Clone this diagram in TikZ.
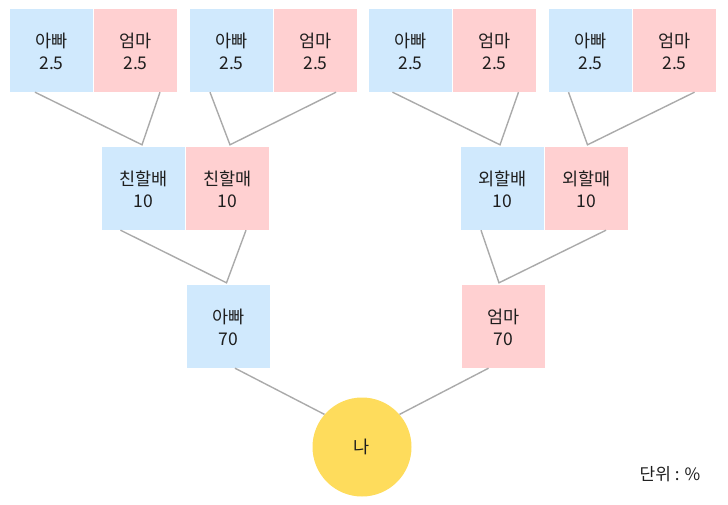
\documentclass[tikz,border=0pt]{standalone}
\usepackage{fontspec}
\setmainfont{Noto Sans CJK KR}
\definecolor{dadblue}{RGB}{208,233,253}
\definecolor{mompink}{RGB}{255,208,209}
\definecolor{meyellow}{RGB}{254,220,92}
\definecolor{linegray}{RGB}{170,170,170}
\definecolor{txt}{RGB}{30,30,30}
\newcommand{\twoline}[2]{\raisebox{-3.5pt}[\height][\depth]{\begin{tabular}{@{}c@{}}#1\\#2\end{tabular}}}
\tikzset{
  person/.style={minimum width=83pt,minimum height=83pt,inner sep=0pt,align=center,
    text=txt,font=\fontsize{17.5}{22}\selectfont},
  dad/.style={person,fill=dadblue},
  mom/.style={person,fill=mompink},
  link/.style={draw=linegray,line width=1.4pt},
}
\begin{document}
\begin{tikzpicture}[x=1pt,y=-1pt]
\useasboundingbox (0,0) rectangle (728,504);
% top row
\node[dad] (a1) at (51.5,50.5) {\twoline{아빠}{2.5}};
\node[mom] (b1) at (135.5,50.5) {\twoline{엄마}{2.5}};
\node[dad] (a2) at (231.5,50.5) {\twoline{아빠}{2.5}};
\node[mom] (b2) at (315.5,50.5) {\twoline{엄마}{2.5}};
\node[dad] (a3) at (410.5,50.5) {\twoline{아빠}{2.5}};
\node[mom] (b3) at (494.5,50.5) {\twoline{엄마}{2.5}};
\node[dad] (a4) at (590.5,50.5) {\twoline{아빠}{2.5}};
\node[mom] (b4) at (674.5,50.5) {\twoline{엄마}{2.5}};
% middle row
\node[dad] (m1) at (143.5,188.5) {\twoline{친할배}{10}};
\node[mom] (m2) at (227.5,188.5) {\twoline{친할매}{10}};
\node[dad] (m3) at (502.5,188.5) {\twoline{외할배}{10}};
\node[mom] (m4) at (586.5,188.5) {\twoline{외할매}{10}};
% bottom row
\node[dad] (fa) at (228.5,326.5) {\twoline{아빠}{70}};
\node[mom] (mo) at (503.5,326.5) {\twoline{엄마}{70}};
% me
\node[circle,fill=meyellow,minimum size=99pt,inner sep=0pt,text=txt,
  font=\fontsize{17.5}{22}\selectfont] (me) at (362,447) {나};
% unit label
\node[text=txt,font=\fontsize{17}{20}\selectfont] (unit) at (670,474) {단위 : \%};
% connectors top -> middle
\draw[link] ([xshift=-16.5pt]a1.south) -- ([xshift=-1.5pt,yshift=2pt]m1.north) -- ([xshift=24.5pt]b1.south);
\draw[link] ([xshift=-21.5pt]a2.south) -- ([xshift=2.5pt,yshift=2pt]m2.north) -- ([xshift=20.5pt]b2.south);
\draw[link] ([xshift=-18pt]a3.south) -- ([xshift=-2.5pt,yshift=2pt]m3.north) -- ([xshift=24pt]b3.south);
\draw[link] ([xshift=-22pt]a4.south) -- ([xshift=1pt,yshift=2pt]m4.north) -- ([xshift=20pt]b4.south);
% middle -> bottom
\draw[link] ([xshift=-23pt]m1.south) -- ([xshift=-2pt,yshift=2pt]fa.north) -- ([xshift=18.5pt]m2.south);
\draw[link] ([xshift=-21.5pt]m3.south) -- ([xshift=-4.5pt,yshift=2pt]mo.north) -- ([xshift=19.5pt]m4.south);
% bottom -> me
\draw[link] ([xshift=6.5pt]fa.south) -- (me.139);
\draw[link] ([xshift=-15pt]mo.south) -- (me.41);
\end{tikzpicture}
\end{document}
